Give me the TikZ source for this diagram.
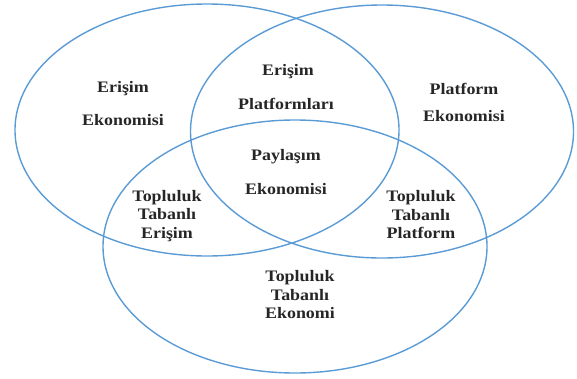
\documentclass[tikz,border=0pt]{standalone}
\usepackage{fontspec}
\setmainfont[FakeStretch=1.12]{Liberation Serif}
\definecolor{vennblue}{RGB}{91,155,213}
\begin{document}
\begin{tikzpicture}[x=1pt,y=-1pt,
  ring/.style={draw=vennblue,line width=1.4pt},
  lbl/.style={font=\fontsize{16}{18.5}\selectfont\bfseries,text=black!85,align=center,inner sep=0pt}]
\useasboundingbox (0,0) rectangle (577,378);
\draw[ring] (207,130) ellipse [x radius=192,y radius=126];
\draw[ring] (382,131.5) ellipse [x radius=191.5,y radius=126.5];
\draw[ring] (295,246.5) ellipse [x radius=192,y radius=126.5];
\node[lbl] (a1) at (123,89) {Erişim};
\node[lbl] (a2) at (123,120) {Ekonomisi};
\node[lbl] (b1) at (288,72) {Erişim};
\node[lbl] (b2) at (286,104) {Platformları};
\node[lbl] (c1) at (464,89) {Platform};
\node[lbl] (c2) at (464,116) {Ekonomisi};
\node[lbl] (d1) at (286,157) {Paylaşım};
\node[lbl] (d2) at (286,189) {Ekonomisi};
\node[lbl] (e) at (167,216) {Topluluk\\Tabanlı\\Erişim};
\node[lbl] (f) at (421,215) {Topluluk\\Tabanlı\\Platform};
\node[lbl] (g) at (300,295) {Topluluk\\Tabanlı\\Ekonomi};
\end{tikzpicture}
\end{document}
